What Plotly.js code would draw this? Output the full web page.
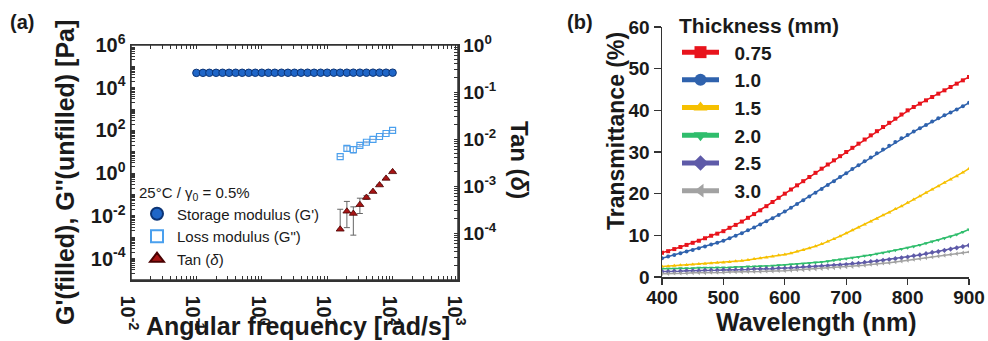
<!DOCTYPE html>
<html><head><meta charset="utf-8">
<script src="https://cdn.plot.ly/plotly-3.0.1.min.js"></script>
<style>html,body{margin:0;padding:0;background:#fff}#chart{width:988px;height:341px}</style>
</head><body><div id="chart"></div>
<script>
// ---------- Panel (a) data ----------
const freqStorage = [0.1,0.126,0.158,0.2,0.251,0.316,0.398,0.501,0.631,0.794,1,1.26,1.58,2,2.51,3.16,3.98,5.01,6.31,7.94,10,12.6,15.8,20,25.1,31.6,39.8,50.1,63.1,79.4,100];
const storageModulus = [49500,49800,50000,49900,50100,50000,50200,50100,50000,50200,50300,50100,50200,50400,50300,50200,50400,50500,50300,50400,50500,50600,50400,50500,50700,50600,50500,50700,50800,50600,50700];
const freqLoss = [15.8,20,25.1,31.6,39.8,50.1,63.1,79.4,100];
const lossModulus = [6.0,14.5,12.8,20,28,38,52,72,100];
const lossErrPlus = [0,4,5,2,1.5,0,0,0,0];
const lossErrMinus = [0,4,4,2,1.5,0,0,0,0];
const tanDelta = [1.2e-4,2.9e-4,2.6e-4,4.0e-4,5.7e-4,7.6e-4,1.05e-3,1.45e-3,2.0e-3];
const tanErrPlus = [2.0e-4,1.8e-4,1.0e-4,1.5e-4,0.5e-4,0,0,0,0];
const tanErrMinus = [0,1.6e-4,1.7e-4,1.4e-4,0.5e-4,0,0,0,0];
const freqTickVals = [0.01,0.1,1,10,100,1000];
const freqTickText = ['10<sup>-2</sup>','10<sup>-1</sup>','10<sup>0</sup>','10<sup>1</sup>','10<sup>2</sup>','10<sup>3</sup>'];
const modTickVals = [1e-4,1e-2,1,1e2,1e4,1e6];
const modTickText = ['10<sup>-4</sup>','10<sup>-2</sup>','10<sup>0</sup>','10<sup>2</sup>','10<sup>4</sup>','10<sup>6</sup>'];
const tanTickVals = [1e-4,1e-3,1e-2,1e-1,1];
const tanTickText = ['10<sup>-4</sup>','10<sup>-3</sup>','10<sup>-2</sup>','10<sup>-1</sup>','10<sup>0</sup>'];
const legendNamesA = ["Storage modulus (G')", 'Loss modulus (G")', 'Tan (<i>δ</i>)'];

// ---------- Panel (b) data ----------
const wavelength = [400,410,420,430,440,450,460,470,480,490,500,510,520,530,540,550,560,570,580,590,600,610,620,630,640,650,660,670,680,690,700,710,720,730,740,750,760,770,780,790,800,810,820,830,840,850,860,870,880,890,900];
const thicknessLabels = ['0.75','1.0','1.5','2.0','2.5','3.0'];
const t075 = [5.8,6.2,6.7,7.2,7.7,8.2,8.7,9.3,9.9,10.4,11.0,11.8,12.5,13.3,14.2,15.1,16.0,17.0,18.0,19.0,20.0,21.0,22.0,23.0,24.0,25.0,26.0,27.0,28.0,29.0,30.0,31.0,32.0,33.0,34.0,35.0,36.0,37.0,38.0,39.0,40.0,40.8,41.6,42.4,43.2,44.0,44.8,45.6,46.4,47.2,48.0];
const t100 = [4.5,4.9,5.3,5.7,6.1,6.5,6.9,7.3,7.8,8.2,8.7,9.3,9.9,10.5,11.2,11.9,12.6,13.4,14.1,14.9,15.7,16.6,17.5,18.4,19.3,20.2,21.1,22.1,23.0,24.0,24.9,25.9,26.8,27.8,28.7,29.7,30.6,31.5,32.4,33.3,34.1,34.9,35.7,36.5,37.3,38.1,38.8,39.5,40.2,41.0,41.8];
const t150 = [2.5,2.6,2.7,2.8,2.9,3.0,3.1,3.2,3.3,3.4,3.5,3.6,3.8,3.9,4.1,4.3,4.5,4.7,4.9,5.2,5.4,5.7,6.1,6.5,6.9,7.4,7.9,8.5,9.1,9.8,10.5,11.2,11.9,12.6,13.3,14.0,14.8,15.5,16.3,17.0,17.8,18.6,19.4,20.2,21.0,21.8,22.6,23.4,24.2,25.1,26.0];
const t200 = [2.0,2.0,2.0,2.1,2.1,2.1,2.2,2.2,2.2,2.3,2.3,2.3,2.4,2.4,2.5,2.5,2.6,2.6,2.7,2.8,2.9,3.0,3.1,3.2,3.3,3.5,3.6,3.8,4.0,4.2,4.4,4.6,4.8,5.1,5.3,5.6,5.8,6.1,6.4,6.7,7.0,7.3,7.7,8.1,8.5,8.9,9.3,9.7,10.2,10.8,11.4];
const t250 = [1.3,1.3,1.4,1.4,1.5,1.5,1.5,1.6,1.6,1.6,1.7,1.7,1.7,1.8,1.8,1.9,1.9,2.0,2.0,2.1,2.1,2.2,2.3,2.4,2.5,2.5,2.6,2.7,2.8,2.9,3.0,3.2,3.3,3.5,3.7,3.8,4.0,4.2,4.4,4.6,4.8,5.1,5.3,5.6,5.9,6.1,6.4,6.7,7.0,7.3,7.6];
const t300 = [0.8,0.8,0.9,0.9,0.9,1.0,1.0,1.0,1.1,1.1,1.1,1.2,1.2,1.2,1.3,1.3,1.3,1.4,1.4,1.5,1.5,1.6,1.7,1.7,1.8,1.9,2.0,2.1,2.2,2.3,2.4,2.5,2.7,2.8,3.0,3.1,3.3,3.4,3.6,3.8,4.0,4.2,4.4,4.6,4.8,5.0,5.2,5.4,5.6,5.8,6.0];

// ---------- unlabeled intermediate log ticks (2..9 x 10^n, plus unlabeled decades) ----------
function logSubTicks(d0, d1, withDecades) {
  const out = [];
  for (let d = d0; d <= d1; d++) {
    if (withDecades) out.push(Math.pow(10, d));
    for (let m = 2; m <= 9; m++) out.push(m * Math.pow(10, d));
  }
  return out;
}
function mergeTicks(vals, text, extra) {
  const keep = extra.filter(v => !vals.some(t => Math.abs(Math.log10(t) - Math.log10(v)) < 1e-6));
  return {tickvals: vals.concat(keep), ticktext: text.concat(keep.map(() => ' '))};
}
const freqTicks = mergeTicks(freqTickVals, freqTickText, logSubTicks(-2, 2, false));
const modTicks = mergeTicks(modTickVals, modTickText, logSubTicks(-5, 5, true));
const tanTicks = mergeTicks(tanTickVals, tanTickText, logSubTicks(-5, -1, false));

// ---------- styles ----------
const W = 988, H = 341;
const px = x => x / W, py = y => 1 - y / H;
const FONT = 'Liberation Sans, Arial, Helvetica, sans-serif';
const TXT = '#1a1a1a';
const NB = '\u00a0\u00a0';
const seriesB = [t075, t100, t150, t200, t250, t300];
const colorsB = ['#e8141c', '#2f62ad', '#f6c000', '#2fbd6c', '#5e5aa8', '#a2a2a2'];
const symbolsB = ['square', 'circle', 'triangle-up', 'triangle-down', 'diamond', 'triangle-left'];

const traces = [
  {x: freqStorage, y: storageModulus, xaxis: 'x', yaxis: 'y', mode: 'markers', name: legendNamesA[0], legend: 'legend',
   marker: {symbol: 'circle', size: 7.5, color: '#1f66c8', line: {color: '#0c3475', width: 1}}},
  {x: freqLoss, y: lossModulus, xaxis: 'x', yaxis: 'y', mode: 'markers', name: legendNamesA[1], legend: 'legend',
   marker: {symbol: 'square-open', size: 6, color: '#4aa0ee', line: {color: '#4aa0ee', width: 1.2}},
   error_y: {type: 'data', symmetric: false, array: lossErrPlus, arrayminus: lossErrMinus, color: '#7fa8d8', thickness: 1, width: 3}},
  {x: freqLoss, y: tanDelta, xaxis: 'x', yaxis: 'y2', mode: 'markers', name: legendNamesA[2], legend: 'legend',
   marker: {symbol: 'triangle-up', size: 7, color: '#a81414', line: {color: '#4a0000', width: 0.8}},
   error_y: {type: 'data', symmetric: false, array: tanErrPlus, arrayminus: tanErrMinus, color: '#666', thickness: 1, width: 3}}
];
seriesB.forEach((s, i) => traces.push({
  x: wavelength, y: s, xaxis: 'x2', yaxis: 'y3', mode: 'lines+markers', name: NB + thicknessLabels[i], legend: 'legend2',
  line: {color: colorsB[i], width: 1.5},
  marker: {symbol: symbolsB[i], size: 4, color: colorsB[i]}
}));

const tickFontA = {family: FONT, size: 20, color: TXT, weight: 'bold'};
const tickFontB = {family: FONT, size: 19, color: TXT, weight: 'bold'};
const axCommon = {showgrid: false, zeroline: false, showline: true, linecolor: '#333', linewidth: 1.5, tickcolor: '#333', tickwidth: 1, layer: 'above traces'};
const majorLog = {type: 'log', tickmode: 'array', ticks: 'inside', ticklen: 4, tickfont: tickFontA};

const annFont = (size) => ({family: FONT, size: size, color: TXT, weight: 'bold'});
const ann = (text, x, y, size, angle) => ({text: text, x: px(x), y: py(y), xref: 'paper', yref: 'paper',
  xanchor: 'center', yanchor: 'middle', textangle: angle || 0, showarrow: false, font: annFont(size)});

const layout = {
  width: W, height: H, margin: {l: 0, r: 0, t: 0, b: 0},
  paper_bgcolor: '#fff', plot_bgcolor: '#fff',
  font: {family: FONT, color: TXT},
  showlegend: true,
  xaxis: Object.assign({}, axCommon, majorLog, {domain: [px(131), px(458)], anchor: 'y', range: [-2, 3],
    tickvals: freqTicks.tickvals, ticktext: freqTicks.ticktext, mirror: 'ticks'}),
  yaxis: Object.assign({}, axCommon, majorLog, {domain: [py(280), py(45)], anchor: 'x', range: [-5, 6],
    tickvals: modTicks.tickvals, ticktext: modTicks.ticktext}),
  yaxis2: Object.assign({}, axCommon, majorLog, {overlaying: 'y', side: 'right', anchor: 'x', range: [-5, 0],
    tickvals: tanTicks.tickvals, ticktext: tanTicks.ticktext, tickfont: {family: FONT, size: 19, color: TXT, weight: 'bold'}}),
  xaxis2: Object.assign({}, axCommon, {domain: [px(662), px(969)], anchor: 'y3', range: [400, 900],
    dtick: 100, ticks: 'outside', ticklen: 6, tickwidth: 1.2, ticklabelstandoff: -3, tickfont: tickFontB}),
  yaxis3: Object.assign({}, axCommon, {domain: [py(277), py(27)], anchor: 'x2', range: [0, 60],
    dtick: 10, ticks: 'outside', ticklen: 7, tickwidth: 1.2, tickfont: tickFontB}),
  // frame of panel (a), drawn on the paper at the plot-area edges
  shapes: [
    {type: 'rect', xref: 'paper', yref: 'paper', x0: px(131), x1: px(458), y0: py(280), y1: py(45),
     line: {color: '#333', width: 1.5}, fillcolor: 'rgba(0,0,0,0)', layer: 'above'}
  ],
  legend: {x: px(137), y: py(178), xanchor: 'left', yanchor: 'top', bgcolor: 'rgba(0,0,0,0)', borderwidth: 0,
    font: {family: FONT, size: 15, color: TXT}, itemsizing: 'constant',
    title: {text: '25°C / γ<sub>0</sub> = 0.5%', font: {family: FONT, size: 15, color: TXT}}},
  legend2: {x: px(677), y: py(6), xanchor: 'left', yanchor: 'top', bgcolor: 'rgba(0,0,0,0)', borderwidth: 0,
    font: {family: FONT, size: 19, color: TXT, weight: 'bold'}, itemsizing: 'constant', itemwidth: 37,
    title: {text: 'Thickness (mm)', font: {family: FONT, size: 21, color: TXT, weight: 'bold'}}},
  annotations: [
    ann('(a)', 22, 22, 20),
    ann('(b)', 580, 22, 20),
    ann("G'(filled), G''(unfilled) [Pa]", 65, 173, 25, -90),
    ann('Angular frequency [rad/s]', 298, 326, 25),
    ann('Tan (<i>δ</i>)', 520, 160, 24, 90),
    ann('Wavelength (nm)', 816, 322, 25),
    ann('Transmittance (%)', 616, 131, 23, -90)
  ]
};

Plotly.newPlot('chart', traces, layout, {displayModeBar: false, staticPlot: true});
</script>
</body></html>
